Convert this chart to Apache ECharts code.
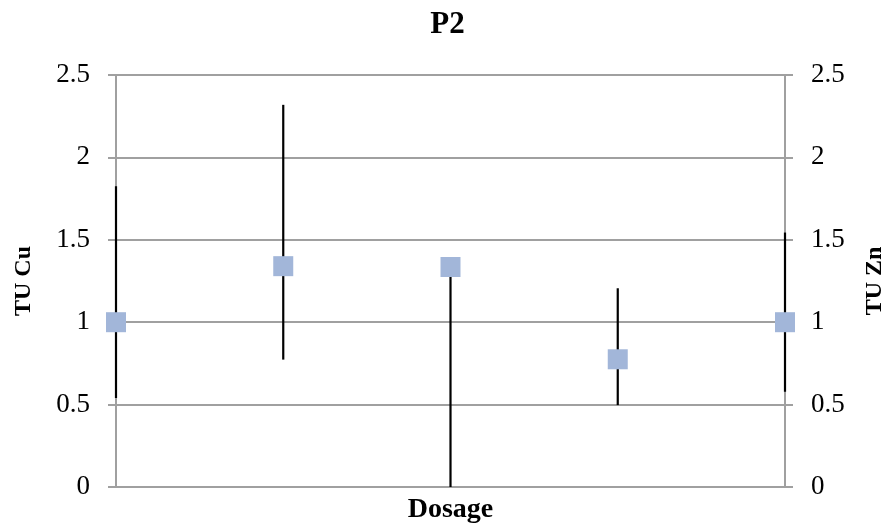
<!DOCTYPE html>
<html>
<head>
<meta charset="utf-8">
<script src="https://cdn.jsdelivr.net/npm/echarts@6/dist/echarts.min.js"></script>
<style>html,body{margin:0;padding:0;background:#fff;}#c{width:895px;height:529px;}</style>
</head>
<body>
<div id="c"></div>
<script>
var categories = ['1', '2', '3', '4', '5'];
var tuValues = [1, 1.34, 1.335, 0.775, 1];
var errLow = [0.54, 0.773, 0, 0.497, 0.578];
var errHigh = [1.825, 2.319, 1.335, 1.206, 1.544];
var yTicks = { min: 0, max: 2.5, interval: 0.5 };

var chart = echarts.init(document.getElementById('c'));
var font = 'Liberation Serif';
var gray = '#a0a0a0';
var errData = categories.map(function (c, i) { return [i, errLow[i], errHigh[i]]; });

function yAxis(pos, name, gap, showSplit) {
  return {
    type: 'value', position: pos, min: yTicks.min, max: yTicks.max, interval: yTicks.interval,
    name: name, nameLocation: 'middle', nameGap: gap, nameRotate: 90,
    nameTextStyle: { fontFamily: font, fontWeight: 'bold', fontSize: 24, color: '#000' },
    axisLine: { show: true, lineStyle: { color: gray, width: 2 } },
    axisTick: { show: true, length: 8, lineStyle: { color: gray, width: 2 } },
    axisLabel: { fontFamily: font, fontSize: 27, color: '#000', margin: 26 },
    splitLine: { show: showSplit, lineStyle: { color: gray, width: 2 } }
  };
}

chart.setOption({
  animation: false,
  backgroundColor: '#fff',
  title: { text: 'P2', left: 'center', top: 4,
    textStyle: { fontFamily: font, fontWeight: 'bold', fontSize: 31, color: '#000' } },
  grid: { left: 116, right: 105, top: 75, bottom: 39 },
  xAxis: {
    type: 'category', data: categories, boundaryGap: false,
    name: 'Dosage', nameLocation: 'middle', nameGap: 9,
    nameTextStyle: { fontFamily: font, fontWeight: 'bold', fontSize: 28, color: '#000' },
    axisLine: { show: true, lineStyle: { color: gray, width: 2 } },
    axisTick: { show: false }, axisLabel: { show: false }, splitLine: { show: false }
  },
  yAxis: [yAxis('left', 'TU Cu', 80, true), yAxis('right', 'TU Zn', 78, false)],
  series: [
    {
      type: 'custom', z: 2, data: errData,
      renderItem: function (params, api) {
        var x = api.value(0);
        var p1 = api.coord([x, api.value(1)]);
        var p2 = api.coord([x, api.value(2)]);
        return { type: 'line', shape: { x1: p1[0], y1: p1[1], x2: p2[0], y2: p2[1] },
          style: { stroke: '#000', lineWidth: 2.2 } };
      }
    },
    {
      type: 'scatter', z: 3, data: tuValues, symbol: 'rect', symbolSize: 20,
      itemStyle: { color: '#a2b6d9', opacity: 1 }
    }
  ]
});
</script>
</body>
</html>
